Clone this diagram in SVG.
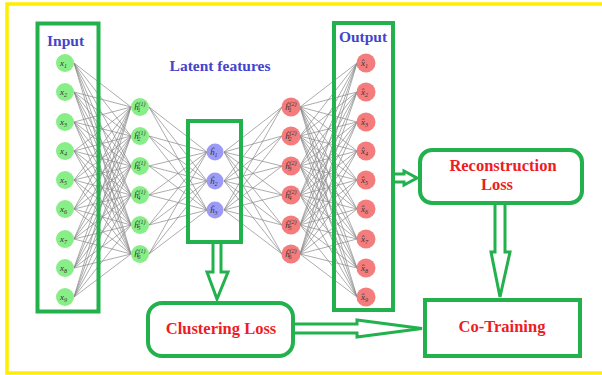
<svg xmlns="http://www.w3.org/2000/svg" width="602" height="375" viewBox="0 0 602 375">
<style>
.bg{fill:#fff}
.frame{fill:none;stroke:#ffee00;stroke-width:3.5}
.box{fill:none;stroke:#22b14c;stroke-width:4}
.wbox{fill:#fff;stroke:#22b14c;stroke-width:4}
.arr{fill:#fff;stroke:#22b14c;stroke-width:3;stroke-linejoin:miter}
.conn{fill:none;stroke:#888;stroke-width:0.7}
.g{fill:#88ee88}
.r{fill:#f47c7c}
.p{fill:#9b9bf7}
.lbl{font-family:"Liberation Serif","DejaVu Serif",serif;font-style:italic;font-size:9px;fill:#333}
.sub{font-size:6px}
.ttl{font-family:"Liberation Serif",serif;font-weight:bold;font-size:15.5px;fill:#4444cc}
.red{font-family:"Liberation Serif",serif;font-weight:bold;font-size:16.5px;fill:#ee1c24;text-anchor:middle}
</style>
<rect class="bg" x="0" y="0" width="602" height="375"/>
<rect class="frame" x="7" y="4" width="600" height="369"/>

<g id="connectors">
<path class="conn" d="M74,63L131,107M74,63L131,136M74,63L131,166M74,63L131,195M74,63L131,225M74,63L131,254
M74,92L131,107M74,92L131,136M74,92L131,166M74,92L131,195M74,92L131,225M74,92L131,254
M74,122L131,107M74,122L131,136M74,122L131,166M74,122L131,195M74,122L131,225M74,122L131,254
M74,151L131,107M74,151L131,136M74,151L131,166M74,151L131,195M74,151L131,225M74,151L131,254
M74,180L131,107M74,180L131,136M74,180L131,166M74,180L131,195M74,180L131,225M74,180L131,254
M74,209L131,107M74,209L131,136M74,209L131,166M74,209L131,195M74,209L131,225M74,209L131,254
M74,239L131,107M74,239L131,136M74,239L131,166M74,239L131,195M74,239L131,225M74,239L131,254
M74,268L131,107M74,268L131,136M74,268L131,166M74,268L131,195M74,268L131,225M74,268L131,254
M74,297L131,107M74,297L131,136M74,297L131,166M74,297L131,195M74,297L131,225M74,297L131,254"/>
<path class="conn" d="M149,107L207,152M149,107L207,181M149,107L207,210
M149,136L207,152M149,136L207,181M149,136L207,210
M149,166L207,152M149,166L207,181M149,166L207,210
M149,195L207,152M149,195L207,181M149,195L207,210
M149,225L207,152M149,225L207,181M149,225L207,210
M149,254L207,152M149,254L207,181M149,254L207,210"/>
<path class="conn" d="M224,152L282,107M224,152L282,136M224,152L282,166M224,152L282,195M224,152L282,225M224,152L282,254
M224,181L282,107M224,181L282,136M224,181L282,166M224,181L282,195M224,181L282,225M224,181L282,254
M224,210L282,107M224,210L282,136M224,210L282,166M224,210L282,195M224,210L282,225M224,210L282,254"/>
<path class="conn" d="M300,107L357,63M300,107L357,92M300,107L357,122M300,107L357,151M300,107L357,180M300,107L357,209M300,107L357,239M300,107L357,268M300,107L357,297
M300,136L357,63M300,136L357,92M300,136L357,122M300,136L357,151M300,136L357,180M300,136L357,209M300,136L357,239M300,136L357,268M300,136L357,297
M300,166L357,63M300,166L357,92M300,166L357,122M300,166L357,151M300,166L357,180M300,166L357,209M300,166L357,239M300,166L357,268M300,166L357,297
M300,195L357,63M300,195L357,92M300,195L357,122M300,195L357,151M300,195L357,180M300,195L357,209M300,195L357,239M300,195L357,268M300,195L357,297
M300,225L357,63M300,225L357,92M300,225L357,122M300,225L357,151M300,225L357,180M300,225L357,209M300,225L357,239M300,225L357,268M300,225L357,297
M300,254L357,63M300,254L357,92M300,254L357,122M300,254L357,151M300,254L357,180M300,254L357,209M300,254L357,239M300,254L357,268M300,254L357,297"/>
<path class="arr" d="M393,174L404,174L404,171L417,178L404,185L404,182L393,182"/>
<path class="arr" d="M213,242L213,272L207,272L217,299L228,272L221,272L221,242"/>
<path class="arr" d="M495,203L495,252L491,252L500,297L510,252L505,252L505,203"/>
<path class="arr" d="M293,324L357,324L357,320L422,328.5L357,337L357,333L293,333"/>
</g>

<g id="input">
<rect class="box" x="37.5" y="23.5" width="61" height="288"/>
<text class="ttl" x="47" y="46">Input</text>
<g id="x1"><circle class="g" cx="65" cy="63" r="9"/><text class="lbl" x="60" y="66">x<tspan class="sub" dy="1.5">1</tspan></text></g>
<g id="x2"><circle class="g" cx="65" cy="92" r="9"/><text class="lbl" x="60" y="95">x<tspan class="sub" dy="1.5">2</tspan></text></g>
<g id="x3"><circle class="g" cx="65" cy="122" r="9"/><text class="lbl" x="60" y="125">x<tspan class="sub" dy="1.5">3</tspan></text></g>
<g id="x4"><circle class="g" cx="65" cy="151" r="9"/><text class="lbl" x="60" y="154">x<tspan class="sub" dy="1.5">4</tspan></text></g>
<g id="x5"><circle class="g" cx="65" cy="180" r="9"/><text class="lbl" x="60" y="183">x<tspan class="sub" dy="1.5">5</tspan></text></g>
<g id="x6"><circle class="g" cx="65" cy="209" r="9"/><text class="lbl" x="60" y="212">x<tspan class="sub" dy="1.5">6</tspan></text></g>
<g id="x7"><circle class="g" cx="65" cy="239" r="9"/><text class="lbl" x="60" y="242">x<tspan class="sub" dy="1.5">7</tspan></text></g>
<g id="x8"><circle class="g" cx="65" cy="268" r="9"/><text class="lbl" x="60" y="271">x<tspan class="sub" dy="1.5">8</tspan></text></g>
<g id="x9"><circle class="g" cx="65" cy="297" r="9"/><text class="lbl" x="60" y="300">x<tspan class="sub" dy="1.5">9</tspan></text></g>
</g>

<g id="hidden1">
<g id="h11"><circle class="g" cx="140" cy="107" r="9"/><text class="lbl" x="134" y="110">ĥ<tspan class="sub" dy="-4">(1)</tspan><tspan class="sub" dx="-8" dy="6">1</tspan></text></g>
<g id="h12"><circle class="g" cx="140" cy="136" r="9"/><text class="lbl" x="134" y="139">ĥ<tspan class="sub" dy="-4">(1)</tspan><tspan class="sub" dx="-8" dy="6">2</tspan></text></g>
<g id="h13"><circle class="g" cx="140" cy="166" r="9"/><text class="lbl" x="134" y="169">ĥ<tspan class="sub" dy="-4">(1)</tspan><tspan class="sub" dx="-8" dy="6">3</tspan></text></g>
<g id="h14"><circle class="g" cx="140" cy="195" r="9"/><text class="lbl" x="134" y="198">ĥ<tspan class="sub" dy="-4">(1)</tspan><tspan class="sub" dx="-8" dy="6">4</tspan></text></g>
<g id="h15"><circle class="g" cx="140" cy="225" r="9"/><text class="lbl" x="134" y="228">ĥ<tspan class="sub" dy="-4">(1)</tspan><tspan class="sub" dx="-8" dy="6">5</tspan></text></g>
<g id="h16"><circle class="g" cx="140" cy="254" r="9"/><text class="lbl" x="134" y="257">ĥ<tspan class="sub" dy="-4">(1)</tspan><tspan class="sub" dx="-8" dy="6">6</tspan></text></g>
</g>

<g id="latent">
<rect class="box" x="188" y="121" width="53" height="121"/>
<text class="ttl" x="220" y="71" text-anchor="middle">Latent features</text>
<g id="l1"><circle class="p" cx="215" cy="152" r="8.5"/><text class="lbl" x="210" y="155">ĥ<tspan class="sub" dy="1.5">1</tspan></text></g>
<g id="l2"><circle class="p" cx="215" cy="181" r="8.5"/><text class="lbl" x="210" y="184">ĥ<tspan class="sub" dy="1.5">2</tspan></text></g>
<g id="l3"><circle class="p" cx="215" cy="210" r="8.5"/><text class="lbl" x="210" y="213">ĥ<tspan class="sub" dy="1.5">3</tspan></text></g>
</g>

<g id="hidden2">
<g id="h21"><circle class="r" cx="291" cy="107" r="9.5"/><text class="lbl" x="285" y="110">ĥ<tspan class="sub" dy="-4">(2)</tspan><tspan class="sub" dx="-8" dy="6">1</tspan></text></g>
<g id="h22"><circle class="r" cx="291" cy="136" r="9.5"/><text class="lbl" x="285" y="139">ĥ<tspan class="sub" dy="-4">(2)</tspan><tspan class="sub" dx="-8" dy="6">2</tspan></text></g>
<g id="h23"><circle class="r" cx="291" cy="166" r="9.5"/><text class="lbl" x="285" y="169">ĥ<tspan class="sub" dy="-4">(2)</tspan><tspan class="sub" dx="-8" dy="6">3</tspan></text></g>
<g id="h24"><circle class="r" cx="291" cy="195" r="9.5"/><text class="lbl" x="285" y="198">ĥ<tspan class="sub" dy="-4">(2)</tspan><tspan class="sub" dx="-8" dy="6">4</tspan></text></g>
<g id="h25"><circle class="r" cx="291" cy="225" r="9.5"/><text class="lbl" x="285" y="228">ĥ<tspan class="sub" dy="-4">(2)</tspan><tspan class="sub" dx="-8" dy="6">5</tspan></text></g>
<g id="h26"><circle class="r" cx="291" cy="254" r="9.5"/><text class="lbl" x="285" y="257">ĥ<tspan class="sub" dy="-4">(2)</tspan><tspan class="sub" dx="-8" dy="6">6</tspan></text></g>
</g>

<g id="output">
<rect class="box" x="334" y="23" width="59" height="287"/>
<text class="ttl" x="363" y="42" text-anchor="middle">Output</text>
<g id="o1"><circle class="r" cx="366" cy="63" r="9.5"/><text class="lbl" x="361" y="66">x̂<tspan class="sub" dy="1.5">1</tspan></text></g>
<g id="o2"><circle class="r" cx="366" cy="92" r="9.5"/><text class="lbl" x="361" y="95">x̂<tspan class="sub" dy="1.5">2</tspan></text></g>
<g id="o3"><circle class="r" cx="366" cy="122" r="9.5"/><text class="lbl" x="361" y="125">x̂<tspan class="sub" dy="1.5">3</tspan></text></g>
<g id="o4"><circle class="r" cx="366" cy="151" r="9.5"/><text class="lbl" x="361" y="154">x̂<tspan class="sub" dy="1.5">4</tspan></text></g>
<g id="o5"><circle class="r" cx="366" cy="180" r="9.5"/><text class="lbl" x="361" y="183">x̂<tspan class="sub" dy="1.5">5</tspan></text></g>
<g id="o6"><circle class="r" cx="366" cy="209" r="9.5"/><text class="lbl" x="361" y="212">x̂<tspan class="sub" dy="1.5">6</tspan></text></g>
<g id="o7"><circle class="r" cx="366" cy="239" r="9.5"/><text class="lbl" x="361" y="242">x̂<tspan class="sub" dy="1.5">7</tspan></text></g>
<g id="o8"><circle class="r" cx="366" cy="268" r="9.5"/><text class="lbl" x="361" y="271">x̂<tspan class="sub" dy="1.5">8</tspan></text></g>
<g id="o9"><circle class="r" cx="366" cy="297" r="9.5"/><text class="lbl" x="361" y="300">x̂<tspan class="sub" dy="1.5">9</tspan></text></g>
</g>

<g id="reconstruction">
<rect class="wbox" x="420" y="150" width="162" height="53" rx="12"/>
<text class="red" x="503" y="171">Reconstruction</text>
<text class="red" x="497" y="190">Loss</text>
</g>

<g id="clustering">
<rect class="wbox" x="148" y="303" width="145" height="53" rx="14"/>
<text class="red" x="221" y="334">Clustering Loss</text>
</g>

<g id="cotraining">
<rect class="wbox" x="425" y="300" width="155" height="56"/>
<text class="red" x="502" y="332">Co-Training</text>
</g>
</svg>
